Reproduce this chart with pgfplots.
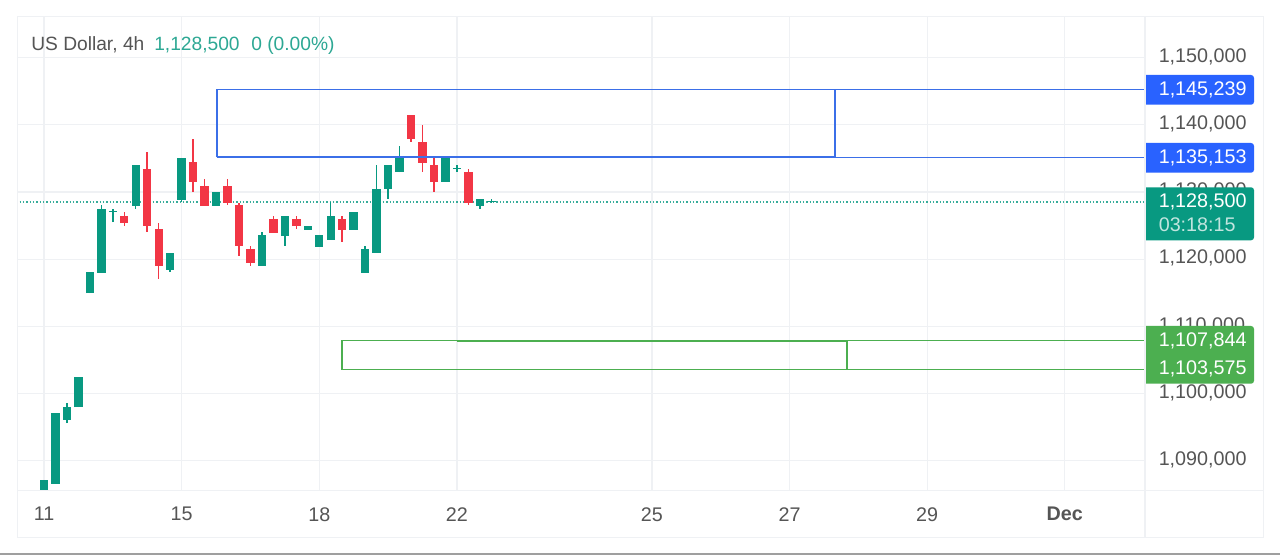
\documentclass[border=0pt]{standalone}
\usepackage{fontspec}
\setmainfont{Liberation Sans}
\usepackage{pgfplots}
\usepackage{pgfplotstable}
\pgfplotsset{compat=1.18}
\definecolor{cgreen}{HTML}{089981}
\definecolor{cred}{HTML}{F23645}
\definecolor{cblue}{HTML}{2962FF}
\definecolor{lblue}{HTML}{3B6FE8}
\definecolor{cbox}{HTML}{4CAF50}
\definecolor{cgrid}{HTML}{EFF1F4}
\definecolor{ctxt}{HTML}{555555}
\pgfplotstableread{
i o h l c
0 1085000 1087058 1085000 1087058
1 1086562 1097083 1086562 1097083
2 1096086 1098660 1095595 1097975
3 1097975 1102529 1097975 1102529
4 1114939 1118063 1114939 1118063
5 1118004 1128033 1118004 1127482
6 1127050 1127482 1125503 1127185
8 1127929 1134030 1127527 1134030
11 1118406 1120935 1118108 1120935
12 1128822 1135027 1128524 1135027
15 1127929 1130012 1127929 1130012
19 1119045 1124060 1119045 1123569
21 1123465 1126441 1121977 1126441
23 1124358 1124997 1124358 1124997
24 1121873 1123569 1121873 1123569
25 1122870 1128524 1122870 1126441
27 1124358 1127036 1124358 1127036
28 1117959 1122021 1117959 1121530
29 1120935 1134030 1120935 1130503
30 1130458 1134030 1128970 1134030
31 1132943 1136901 1132943 1135175
35 1131500 1135175 1131500 1135175
36 1133380 1134030 1132988 1133530
38 1127929 1128970 1127482 1128970
39 1128450 1129015 1128400 1128600
}\greencandles
\pgfplotstableread{
i o h l c
7 1126441 1127036 1124953 1125444
9 1133434 1135964 1124060 1124953
10 1124462 1125444 1117066 1119045
13 1134476 1137943 1130012 1131500
14 1130949 1131946 1127929 1127929
16 1130949 1131946 1128078 1128420
17 1128033 1128375 1120533 1121977
18 1121530 1121977 1119045 1119447
20 1125994 1126441 1123956 1123956
22 1125994 1126441 1124506 1124953
26 1125994 1126441 1122572 1124358
32 1141470 1141470 1137452 1137854
33 1137452 1139982 1132988 1134372
34 1134030 1135175 1130012 1131500
37 1132988 1133434 1128078 1128420
}\redcandles
\pgfplotsset{
  wick/.style={draw=none,mark=none,forget plot,error bars/.cd,y dir=both,y explicit,
    error mark=none,error bar style={draw=#1,line width=1.1pt,solid}},
  body/.style={draw=none,mark=none,forget plot,error bars/.cd,y dir=both,y explicit,
    error mark=none,error bar style={draw=#1,line width=6.3pt,solid}},
}
\newcommand{\pricetag}[3]{\fill[#1] (1146,#2) [rounded corners=2.2pt] -- (1254,#2) -- (1254,#3) [sharp corners] -- (1146,#3) -- cycle;}
\begin{document}
\begin{tikzpicture}
\begin{scope}[x=0.75pt,y=-0.75pt]
\useasboundingbox (0,0) rectangle (1280,555);
\fill[white] (0,0) rectangle (1280,555);
\end{scope}
\begin{axis}[
  at={(12.75pt,-367.5pt)},anchor=south west,
  scale only axis,width=846pt,height=354.75pt,
  xmin=-2.354,xmax=95.99,
  ymin=1085644,ymax=1156026,
  axis line style={draw=none},
  xtick={0,12,24,36,53,65,77,89},
  xticklabels={11,15,18,22,25,27,29,\textbf{Dec}},
  ytick={1090000,1100000,1110000,1120000,1130000,1140000,1150000},
  major tick length=0pt,
  ymajorgrids,xmajorgrids,
  grid style={cgrid,line width=0.9pt},
  yticklabel pos=right,
  scaled y ticks=false,
  /pgf/number format/assume math mode=true,
  /pgf/number format/fixed,
  /pgf/number format/precision=0,
  /pgf/number format/1000 sep={,},
  tick label style={font=\fontsize{14.8pt}{17pt}\selectfont,text=ctxt,inner sep=0pt},
  yticklabel style={anchor=west,xshift=10.1pt,yshift=0.6pt},
  xticklabel style={anchor=north,yshift=-12.8pt},
]
% dotted last-price line
\addplot[cgreen!80!white,line width=1pt,dash pattern=on 1pt off 1.5pt,mark=none,forget plot] coordinates {(-3,1128500) (95.99,1128500)};
% candles: wicks, then bodies
\addplot[wick=cgreen] table[x=i,y=l,y error plus expr=\thisrow{h}-\thisrow{l},y error minus expr=0]{\greencandles};
\addplot[wick=cred] table[x=i,y=l,y error plus expr=\thisrow{h}-\thisrow{l},y error minus expr=0]{\redcandles};
\addplot[body=cgreen] table[x=i,y=o,y error plus expr=\thisrow{c}-\thisrow{o},y error minus expr=0]{\greencandles};
\addplot[body=cred] table[x=i,y=c,y error plus expr=\thisrow{o}-\thisrow{c},y error minus expr=0]{\redcandles};
% zones
\addplot[lblue,line width=1.3pt,forget plot] coordinates {(15.083,1135153) (15.083,1145239) (68.96,1145239) (68.96,1135153) (15.083,1135153)};
\addplot[lblue,line width=1pt,forget plot] coordinates {(68.96,1145239) (95.99,1145239)};
\addplot[lblue,line width=1pt,forget plot] coordinates {(68.96,1135153) (95.99,1135153)};
\addplot[cbox,line width=1pt,forget plot] coordinates {(36,1107844) (25.98,1107844) (25.98,1103575) (70.01,1103575) (70.01,1107844) (36,1107844)};
\addplot[cbox,line width=1.4pt,forget plot] coordinates {(36,1107844) (70.01,1107844)};
\addplot[cbox,line width=1pt,forget plot] coordinates {(70.01,1107844) (95.99,1107844)};
\addplot[cbox,line width=1pt,forget plot] coordinates {(70.01,1103575) (95.99,1103575)};
\end{axis}
\begin{scope}[x=0.75pt,y=-0.75pt]
% frame
\draw[cgrid,line width=0.75pt] (17,17) rectangle (1263,537);
\draw[cgrid,line width=0.75pt] (17,490) -- (1263,490);
\draw[cgrid,line width=1.4pt] (1145,17) -- (1145,537);
\fill[gray!75] (0,553) rectangle (1280,555);
% header
\node[anchor=base west,inner sep=0pt,text=ctxt,font=\fontsize{14.4pt}{17pt}\selectfont] at (31,51) {US Dollar, 4h};
\node[anchor=base west,inner sep=0pt,text=cgreen!85!white,font=\fontsize{14.4pt}{17pt}\selectfont] at (154,51) {1,128,500};
\node[anchor=base west,inner sep=0pt,text=cgreen!85!white,font=\fontsize{14.4pt}{17pt}\selectfont] at (251,51) {0 (0.00\%)};
% price tags
\pricetag{cblue}{75}{104.7}
\pricetag{cblue}{143}{172.7}
\pricetag{cgreen}{187.3}{240.3}
\pricetag{cbox}{326}{383.7}
\begin{scope}[every node/.style={anchor=base west,inner sep=0pt,font=\fontsize{14.8pt}{17pt}\selectfont,text=white}]
\node at (1158.5,95.2) {1,145,239};
\node at (1158.5,163.2) {1,135,153};
\node at (1158.5,207.2) {1,128,500};
\node[text=white!75!cgreen] at (1158.5,231.2) {03:18:15};
\node at (1158.5,346.2) {1,107,844};
\node at (1158.5,374.2) {1,103,575};
\end{scope}
\end{scope}
\end{tikzpicture}
\end{document}
